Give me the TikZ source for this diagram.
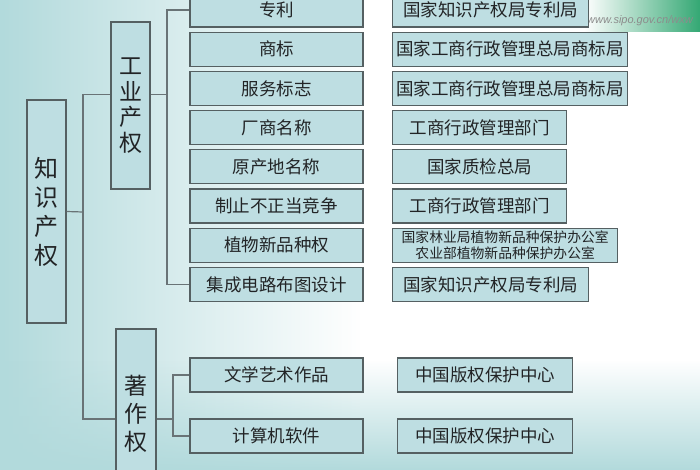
\documentclass[tikz,border=0pt]{standalone}
\usepackage{fontspec}
\setmainfont{Noto Sans CJK SC}
\newfontfamily\urlfont{Liberation Sans}
\usetikzlibrary{calc,fadings}
\definecolor{boxfill}{RGB}{190,222,226}
\definecolor{boxline}{RGB}{85,96,98}
\definecolor{linkcol}{RGB}{105,115,118}
\definecolor{txt}{RGB}{34,36,38}
\definecolor{bgteal}{RGB}{178,218,220}
\definecolor{bandgreen}{RGB}{52,168,116}

\begin{document}
\begin{tikzpicture}[x=1pt,y=-1pt,
	box/.style={draw=boxline, fill=boxfill, line width=1.3pt, text=txt, inner sep=0pt, align=center},
	topbox/.style={box, minimum width=39pt, font=\fontsize{23}{27}\selectfont},
	kind/.style={box, minimum width=173pt, minimum height=34pt, font=\fontsize{17.5}{20}\selectfont},
	office/.style={box, anchor=west, minimum height=34pt, font=\fontsize{17.5}{20}\selectfont},
	link/.style={draw=linkcol, line width=1.2pt}]
	\useasboundingbox (0,0) rectangle (700,470);
	\clip (0,0) rectangle (700,470);
	\fill[white] (0,0) rectangle (700,470);
	\fill[bgteal, path fading=east] (0,0) rectangle (360,470);
	\fill[bgteal, path fading=north] (0,360) rectangle (700,470);
	\fill[bandgreen, path fading=west] (585,0) rectangle (700,32);
	\node[font=\urlfont\itshape\fontsize{11}{13}\selectfont, text=black!45] (url) at (640,21) {www.sipo.gov.cn/wxw};

	\node[topbox, minimum height=223pt, font=\fontsize{24}{29}\selectfont] (zscq) at (46.5,211.5) {知\\识\\产\\权};
	\node[topbox, minimum height=167pt, font=\fontsize{23}{25.5}\selectfont] (gycq) at (130.5,105.5) {工\\业\\产\\权};
	\node[topbox, minimum height=170pt, minimum width=40pt, font=\fontsize{23}{28}\selectfont] (zzq) at (136,414) {著\\作\\权};

	\foreach \kname/\oname/\owd [count=\i] in {专利/国家知识产权局专利局/196, 商标/国家工商行政管理总局商标局/235,
		服务标志/国家工商行政管理总局商标局/235, 厂商名称/工商行政管理部门/174, 原产地名称/国家质检总局/174,
		制止不正当竞争/工商行政管理部门/174, 植物新品种权//225, 集成电路布图设计/国家知识产权局专利局/196} {
		\node[kind] (k\i) at (276.5,{10+39.2*(\i-1)}) {\kname};
		\node[office, minimum width=\owd pt] (o\i) at (392,{10+39.2*(\i-1)}) {\oname};
	}
	\node[font=\fontsize{13.8}{16}\selectfont, text=txt, align=center] (o7t) at (o7.center) {国家林业局植物新品种保护办公室\\农业部植物新品种保护办公室};
	\node[kind] (w1) at (276.5,375) {文学艺术作品};
	\node[kind] (w2) at (276.5,436) {计算机软件};
	\node[office, minimum width=175pt] (v1) at (397,375) {中国版权保护中心};
	\node[office, minimum width=175pt] (v2) at (397,436) {中国版权保护中心};

	\coordinate (j1) at (83,212);
	\coordinate (j2) at (167,94.5);
	\coordinate (j3) at (173,419);
	\draw[link] (zscq.east) -- (j1);
	\draw[link] ([yshift=11pt]gycq.west) -| (j1) |- ([yshift=-5pt]zzq.west);
	\draw[link] ([yshift=11pt]gycq.east) -- (j2);
	\draw[link] (k1.west) -| (j2) |- (k8.west);
	\draw[link] ([yshift=-5pt]zzq.east) -- (j3);
	\draw[link] (w1.west) -| (j3) |- (w2.west);
\end{tikzpicture}
\end{document}
